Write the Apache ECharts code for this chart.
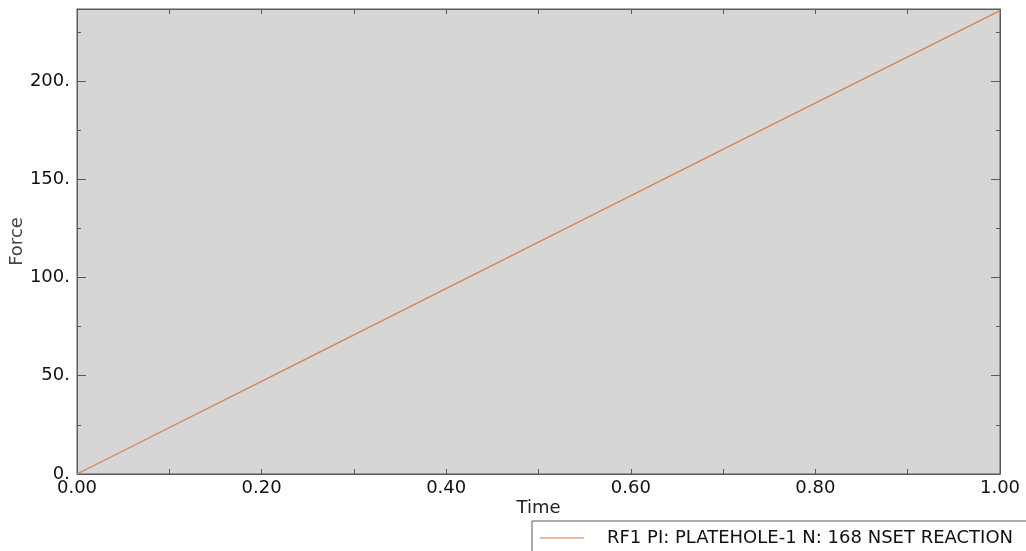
<!DOCTYPE html>
<html>
<head>
<meta charset="utf-8">
<script src="https://cdn.jsdelivr.net/npm/echarts@6/dist/echarts.min.js"></script>
<style>
html,body{margin:0;padding:0;background:#fff;}
#c{width:1026px;height:551px;}
</style>
</head>
<body>
<div id="c"></div>
<script>
var seriesName = 'RF1 PI: PLATEHOLE-1 N: 168 NSET REACTION';
var times = [0, 0.25, 0.5, 0.75, 1.0];
var forces = [0, 59, 118, 177, 235.8];
var xTickLabels = ['0.00', '0.20', '0.40', '0.60', '0.80', '1.00'];
var yTickLabels = ['0.', '50.', '100.', '150.', '200.'];

var FONT = 'DejaVu Sans';
var axisLineColor = '#5a5a5a';

function xLab(v) {
  var i = Math.round(v * 10);
  if (i % 2 !== 0) return '';
  return xTickLabels[i / 2] || '';
}

var chart = echarts.init(document.getElementById('c'), null, {renderer: 'canvas'});
chart.setOption({
  backgroundColor: '#ffffff',
  animation: false,
  grid: {left: 77, top: 9, right: 26, bottom: 77, containLabel: false, outerBoundsMode: 'none',
    show: true, backgroundColor: '#d6d6d6', borderColor: axisLineColor, borderWidth: 1},
  legend: {
    show: true,
    left: 532, top: 521,
    data: [seriesName],
    icon: 'rect',
    itemWidth: 44, itemHeight: 1.5,
    itemGap: 10,
    padding: [8, 20, 20, 8],
    borderColor: axisLineColor, borderWidth: 1,
    textStyle: {fontFamily: FONT, fontSize: 18, color: '#111', padding: [0, 0, 0, 18]}
  },
  xAxis: [{
    type: 'value', position: 'bottom', min: 0, max: 1, interval: 0.1,
    name: 'Time', nameLocation: 'middle', nameGap: 25, nameMoveOverlap: false,
    nameTextStyle: {fontFamily: FONT, fontSize: 18, color: '#222'},
    axisLine: {show: true, onZero: false, lineStyle: {color: axisLineColor}},
    axisTick: {show: true, inside: true, length: 5, lineStyle: {color: axisLineColor}},
    splitLine: {show: false},
    axisLabel: {formatter: xLab, fontFamily: FONT, fontSize: 18, color: '#111', margin: 5, showMaxLabel: true, showMinLabel: true, hideOverlap: false}
  }, {
    type: 'value', position: 'top', min: 0, max: 1, interval: 0.1,
    axisLine: {show: true, onZero: false, lineStyle: {color: axisLineColor}},
    axisTick: {show: true, inside: true, length: 5, lineStyle: {color: axisLineColor}},
    splitLine: {show: false},
    axisLabel: {show: false}
  }],
  yAxis: [{
    type: 'value', position: 'left', min: 0, max: 236.6, interval: 50,
    name: 'Force', nameLocation: 'middle', nameGap: 51, nameMoveOverlap: false,
    nameTextStyle: {fontFamily: FONT, fontSize: 18, color: '#444'},
    axisLine: {show: true, onZero: false, lineStyle: {color: axisLineColor}},
    axisTick: {show: true, inside: true, length: 9, lineStyle: {color: axisLineColor}},
    minorTick: {show: true, splitNumber: 2, length: 4, lineStyle: {color: axisLineColor}},
    splitLine: {show: false},
    axisLabel: {formatter: function (v) { return yTickLabels[Math.round(v / 50)] || ''; }, fontFamily: FONT, fontSize: 18, color: '#111', margin: 7, padding: [0, 0, 4, 0]}
  }, {
    type: 'value', position: 'right', min: 0, max: 236.6, interval: 50,
    axisLine: {show: true, onZero: false, lineStyle: {color: axisLineColor}},
    axisTick: {show: true, inside: true, length: 9, lineStyle: {color: axisLineColor}},
    minorTick: {show: true, splitNumber: 2, length: 4, lineStyle: {color: axisLineColor}},
    splitLine: {show: false},
    axisLabel: {show: false}
  }],
  series: [{
    name: seriesName,
    type: 'line',
    data: times.map(function (t, i) { return [t, forces[i]]; }),
    symbol: 'none',
    lineStyle: {color: '#d8834f', width: 1.3},
    itemStyle: {color: '#e0a57e'}
  }]
});
</script>
</body>
</html>
